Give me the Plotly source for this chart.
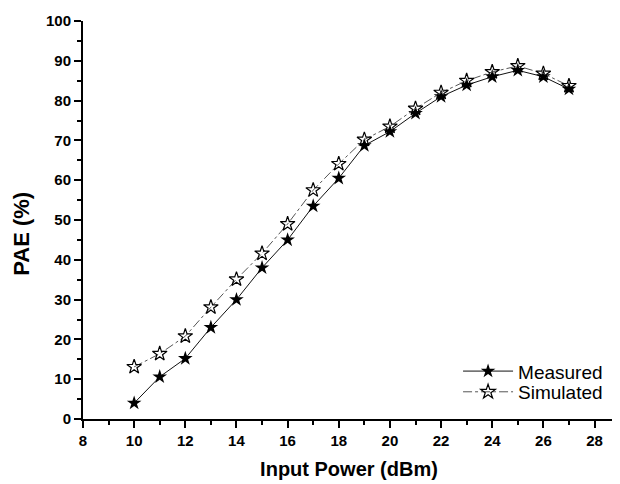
import plotly.graph_objects as go

input_power = [10, 11, 12, 13, 14, 15, 16, 17, 18, 19, 20, 21, 22, 23, 24, 25, 26, 27]
measured = [4.0, 10.6, 15.2, 23.0, 30.0, 38.0, 45.0, 53.5, 60.5, 68.7, 72.2, 76.8, 81.0, 83.9, 86.0, 87.6, 86.0, 82.9]
simulated = [13.1, 16.4, 20.8, 28.1, 35.1, 41.6, 49.0, 57.5, 64.1, 70.2, 73.5, 78.0, 82.0, 85.0, 87.2, 88.7, 86.8, 83.7]

fig = go.Figure()
fig.add_trace(go.Scatter(
    x=input_power, y=measured, name="Measured", mode="lines+markers",
    line=dict(color="#111111", width=1),
    marker=dict(symbol="star", size=11, color="black"),
    legend="legend",
))
fig.add_trace(go.Scatter(
    x=input_power, y=simulated, name="Simulated", mode="lines+markers",
    line=dict(color="#555555", width=1, dash="dashdot"),
    marker=dict(symbol="star-open", size=11, color="black", line=dict(width=1.2)),
    legend="legend2",
))

font_family = "Liberation Sans, Arial, sans-serif"
leg_common = dict(xanchor="left", yanchor="middle",
                  font=dict(size=19, family=font_family, color="black"),
                  bgcolor="rgba(0,0,0,0)", itemwidth=50)
# The page body has an 8px margin, so the figure is 612x476 to fill the 620x484 window.
fig.update_layout(
    template="none",
    width=612, height=476,
    margin=dict(l=75, r=5, t=13, b=65),
    paper_bgcolor="white", plot_bgcolor="white",
    font=dict(family=font_family, color="black"),
    showlegend=True,
    legend=dict(x=0.705, y=0.12, **leg_common),
    legend2=dict(x=0.705, y=0.068, **leg_common),
    annotations=[dict(
        text="<b>PAE (%)</b>", textangle=-90, showarrow=False,
        xref="paper", yref="paper", x=-0.115, y=0.465,
        xanchor="center", yanchor="middle",
        font=dict(size=22, family=font_family, color="black"),
    )],
)
fig.update_xaxes(
    range=[8, 28.8], tickmode="linear", tick0=8, dtick=2,
    automargin=False,
    showline=True, linecolor="black", linewidth=2, showgrid=False, zeroline=False,
    ticks="outside", ticklen=7, tickwidth=2, tickcolor="black",
    minor=dict(ticks="outside", dtick=1, ticklen=4, tickwidth=1.5, tickcolor="black", showgrid=False),
    tickfont=dict(size=15, family=font_family, weight="bold"),
    title=dict(text="<b>Input Power (dBm)</b>", font=dict(size=20), standoff=14),
)
fig.update_yaxes(
    range=[0, 100], tickmode="linear", tick0=0, dtick=10,
    automargin=False,
    showline=True, linecolor="black", linewidth=2, showgrid=False, zeroline=False,
    ticks="outside", ticklen=7, tickwidth=2, tickcolor="black",
    minor=dict(ticks="outside", dtick=5, ticklen=4, tickwidth=1.5, tickcolor="black", showgrid=False),
    tickfont=dict(size=15, family=font_family, weight="bold"),
)

fig.write_html("out.html")
